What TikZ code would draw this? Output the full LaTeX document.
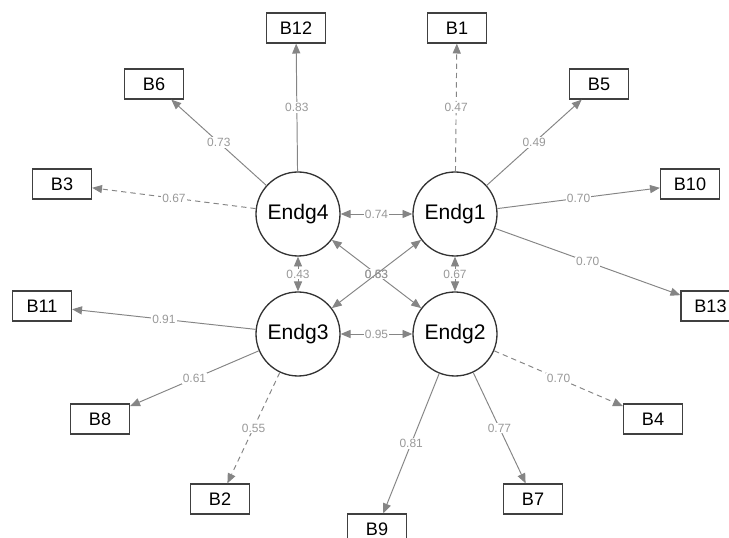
\documentclass[tikz,border=0pt]{standalone}
\usepackage{fontspec}
\setmainfont{Liberation Sans}
\usetikzlibrary{arrows.meta}
\tikzset{
	latent/.style={circle, draw=black!80, line width=0.75pt, minimum size=1.68cm, inner sep=0pt, font=\fontsize{12}{13}\selectfont},
	manifest/.style={rectangle, draw=black!75, line width=0.75pt, minimum width=1.18cm, minimum height=0.6cm, inner sep=0pt, font=\fontsize{10.3}{11}\selectfont},
	load/.style={draw=black!48, line width=0.55pt, -{Triangle[length=5.6pt,width=4.6pt]}},
	weak/.style={dash pattern=on 3pt off 2.3pt},
	cov/.style={draw=black!48, line width=0.55pt, {Triangle[length=5.6pt,width=4.6pt]}-{Triangle[length=5.6pt,width=4.6pt]}},
	est/.style={midway, fill=white, inner sep=0.6pt, text=black!40, font=\fontsize{6.8}{7}\selectfont}
}

\begin{document}
\begin{tikzpicture}
		%%%%% START %%%%%
		\useasboundingbox (0, 0) rectangle (14.58, 10.74);
		
		\node[latent] (endg4) at (5.96, 6.46) {Endg4};
		\node[latent] (endg1) at (9.10, 6.46) {Endg1};
		\node[latent] (endg3) at (5.96, 4.06) {Endg3};
		\node[latent] (endg2) at (9.10, 4.06) {Endg2};
		
		\node[manifest] (b12) at (5.92, 10.18) {B12};
		\node[manifest] (b6) at (3.08, 9.06) {B6};
		\node[manifest] (b3) at (1.24, 7.06) {B3};
		\node[manifest] (b1) at (9.14, 10.18) {B1};
		\node[manifest] (b5) at (11.98, 9.06) {B5};
		\node[manifest] (b10) at (13.80, 7.06) {B10};
		\node[manifest] (b13) at (14.21, 4.62) {B13};
		\node[manifest] (b11) at (0.84, 4.62) {B11};
		\node[manifest] (b8) at (2.00, 2.36) {B8};
		\node[manifest] (b2) at (4.40, 0.76) {B2};
		\node[manifest] (b9) at (7.54, 0.16) {B9};
		\node[manifest] (b7) at (10.66, 0.76) {B7};
		\node[manifest] (b4) at (13.06, 2.36) {B4};
		
		% loadings
		\draw[load] (endg4) -- (b12) node[est] {0.83};
		\draw[load] (endg4) -- (b6) node[est] {0.73};
		\draw[load, weak] (endg4) -- (b3) node[est] {0.67};
		\draw[load, weak] (endg1) -- (b1) node[est] {0.47};
		\draw[load] (endg1) -- (b5) node[est] {0.49};
		\draw[load] (endg1) -- (b10) node[est] {0.70};
		\draw[load] (endg1) -- (b13) node[est] {0.70};
		\draw[load] (endg3) -- (b11) node[est] {0.91};
		\draw[load] (endg3) -- (b8) node[est] {0.61};
		\draw[load, weak] (endg3) -- (b2) node[est] {0.55};
		\draw[load, weak] (endg2) -- (b4) node[est] {0.70};
		\draw[load] (endg2) -- (b7) node[est] {0.77};
		\draw[load] (endg2) -- (b9) node[est] {0.81};
		
		% covariances
		\draw[cov] (endg4) -- (endg1) node[est] {0.74};
		\draw[cov] (endg4) -- (endg3) node[est] {0.43};
		\draw[cov] (endg1) -- (endg2) node[est] {0.67};
		\draw[cov] (endg3) -- (endg2) node[est] {0.95};
		\draw[cov] (endg4) -- (endg2) node[est] {0.63};
		\draw[cov] (endg3) -- (endg1) node[est, fill=none] {0.53};
		%%%%% END %%%%%
\end{tikzpicture}
\end{document}
